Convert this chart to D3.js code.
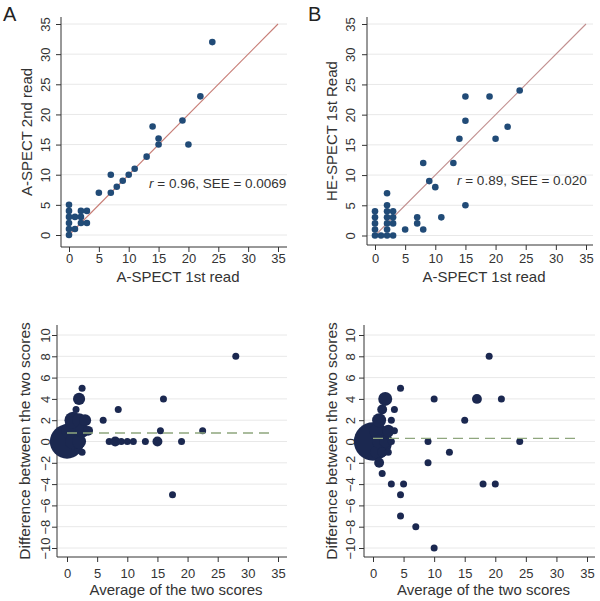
<!DOCTYPE html>
<html><head><meta charset="utf-8">
<script src="https://cdn.jsdelivr.net/npm/d3@7"></script>
<style>body{margin:0;background:#fff}svg{display:block}text{font-family:"Liberation Sans",Arial,sans-serif}</style>
</head><body>
<script>
// ---------- DATA ----------
const xTicks = [0,5,10,15,20,25,30,35];
const yTicksTop = [0,5,10,15,20,25,30,35];
const yTicksBottom = [-10,-8,-6,-4,-2,0,2,4,6,8,10];

// Panel A: A-SPECT 1st read vs 2nd read
const aRead1 = [0,0,0,0,0,0,1,1,2,2,2,3,3,5,7,7,8,9,10,11,13,14,15,15,19,20,22,24];
const aRead2 = [0,1,2,3,4,5,1,3,2,3,4,2,4,7,7,10,8,9,10,11,13,18,15,16,19,15,23,32];
const aLabel = "r = 0.96, SEE = 0.0069";

// Panel B: A-SPECT 1st read vs HE-SPECT 1st read
const bASpect = [0,0,0,0,0,1,2,2,2,2,2,2,2,3,3,3,3,5,7,7,8,8,9,10,11,13,14,15,15,15,19,20,22,24];
const bHESpect = [0,1,2,3,4,0,0,1,2,3,4,5,7,0,2,3,4,1,2,3,1,12,9,8,3,12,16,5,19,23,23,16,18,24];
const bLabel = "r = 0.89, SEE = 0.020";

// Panel C: Bland-Altman, A-SPECT reads (bubble = number of subjects)
const cAvg   = [0,0.5,1,1.5,2,2.5,1,2,2,2.5,3,2.5,3.5,6,8.5,7,8,9,10,11,13,15,15.5,16,17.5,19,22.5,28];
const cDiff  = [0,1,2,3,4,5,0,0,2,1,2,-1,1,2,3,0,0,0,0,0,0,0,1,4,-5,0,1,8];
const cCount = [24,6,6,1,3,1,5,4,4,4,3,1,2,1,1,1,2,1,1,1,1,2,1,1,1,1,1,1];
const cMeanDiff = 0.8;

// Panel D: Bland-Altman, A-SPECT vs HE-SPECT
const dAvg   = [0,0.5,1,1.5,2,0.5,1,1.5,2,2.5,1,1.5,2.5,3,3,3.5,3.5,4.5,3,4.5,5,4.5,7,9,9,10,10,12.5,15,17,18,19,20,21,24];
const dDiff  = [0,1,2,3,4,-1,0,-1,0,1,-2,-3,-1,0,2,1,3,5,-4,-5,-4,-7,-8,0,-2,4,-10,-1,2,4,-4,8,-4,4,0];
const dCount = [30,4,4,2,4,3,4,2,3,3,2,1,1,1,1,1,1,1,1,1,1,1,1,1,1,1,1,1,1,2,1,1,1,1,1];
const dMeanDiff = 0.3;

// ---------- DRAW ----------
const W = 600, H = 601;
const svg = d3.select("body").append("svg").attr("width", W).attr("height", H);

const topColor = "#214b77";
const botColor = "#1b2850";
const axisColor = "#333";
const textColor = "#333";
const gridColor = "#e8e8e8";

function panel(o) {
  const g = svg.append("g");
  const x = d3.scaleLinear().domain([0,35]).range(o.xr);
  const y = d3.scaleLinear().domain(o.yd).range(o.yr);
  g.selectAll("line.grid").data(o.yTicks).join("line").attr("class","grid")
    .attr("x1", o.left).attr("x2", o.right)
    .attr("y1", d => y(d)).attr("y2", d => y(d))
    .attr("stroke", gridColor).attr("stroke-width", 1);
  const yAx = g.append("g").attr("transform", `translate(${o.left},0)`)
    .call(d3.axisLeft(y).tickValues(o.yTicks).tickSize(5).tickSizeOuter(0).tickFormat(d3.format("d")));
  yAx.select(".domain").remove();
  yAx.append("line").attr("x1",0).attr("x2",0).attr("y1",o.top).attr("y2",o.bottom).attr("stroke",axisColor);
  yAx.selectAll(".tick line").attr("stroke", axisColor);
  yAx.selectAll(".tick text").attr("fill", textColor).style("font-size","13px")
    .attr("text-anchor","middle")
    .attr("transform", `translate(${o.tickLabX - o.left},0) rotate(-90)`)
    .attr("x",0).attr("dy","0.35em").attr("y",0);
  const xAx = g.append("g").attr("transform", `translate(0,${o.bottom})`)
    .call(d3.axisBottom(x).tickValues(xTicks).tickSize(5).tickSizeOuter(0));
  xAx.select(".domain").remove();
  xAx.append("line").attr("x1",o.left).attr("x2",o.right).attr("y1",0).attr("y2",0).attr("stroke",axisColor);
  xAx.selectAll(".tick line").attr("stroke", axisColor);
  xAx.selectAll(".tick text").attr("fill", textColor).style("font-size","13px")
    .attr("y", o.xTickLabY - o.bottom).attr("dy","0.35em");
  g.append("text").attr("x", (o.left+o.right)/2 + 4).attr("y", o.xTitleY).attr("dy","0.35em")
    .attr("text-anchor","middle").attr("fill",textColor).style("font-size","15px").text(o.xTitle);
  g.append("text").attr("transform", `translate(${o.yTitleX},${(o.top+o.bottom)/2}) rotate(-90)`)
    .attr("dy","0.35em").attr("text-anchor","middle").attr("fill",textColor).style("font-size",o.yTitleSize||"15px").text(o.yTitle);
  if (o.letter) g.append("text").attr("x", o.letter[0]).attr("y", o.letter[1])
    .attr("fill","#222").style("font-size","20px").text(o.letter[2]);
  return {g, x, y};
}

function fitLine(p, color) {
  const path = d3.path();
  path.moveTo(p.x(0), p.y(0));
  path.lineTo(p.x(35), p.y(35));
  p.g.append("path").attr("class","fit").attr("d", path.toString())
    .attr("fill","none").attr("stroke",color).attr("stroke-width",1.1);
}
function stat(p, label, xv, yv) {
  const t = p.g.append("text").attr("x",p.x(xv)).attr("y",p.y(yv)).attr("dy","0.35em")
    .attr("fill",textColor).style("font-size","13.5px");
  t.append("tspan").style("font-style","italic").text(label.slice(0,1));
  t.append("tspan").text(label.slice(1));
}

// Panel A
{
  const p = panel({xr:[69,278], yd:[0,35], yr:[235,24], yTicks:yTicksTop, left:61, right:287, top:17, bottom:247,
    tickLabX:45, xTickLabY:258, xTitleY:277, yTitleX:27, xTitle:"A-SPECT 1st read", yTitle:"A-SPECT 2nd read", letter:[3,21,"A"]});
  fitLine(p, "#c77d76");
  p.g.selectAll("circle.pt").data(aRead1.map((v,i)=>[v,aRead2[i]])).join("circle").attr("class","pt")
    .attr("cx",d=>p.x(d[0])).attr("cy",d=>p.y(d[1])).attr("r",3.3).attr("fill",topColor);
  stat(p, aLabel, 13.4, 8.6);
}
// Panel B
{
  const p = panel({xr:[375,586], yd:[0,35], yr:[235.5,24], yTicks:yTicksTop, left:367, right:593, top:17, bottom:245,
    tickLabX:350, xTickLabY:258, xTitleY:277, yTitleX:332, xTitle:"A-SPECT 1st read", yTitle:"HE-SPECT 1st Read", letter:[308,21,"B"]});
  fitLine(p, "#c29090");
  p.g.selectAll("circle.pt").data(bASpect.map((v,i)=>[v,bHESpect[i]])).join("circle").attr("class","pt")
    .attr("cx",d=>p.x(d[0])).attr("cy",d=>p.y(d[1])).attr("r",3.3).attr("fill",topColor);
  stat(p, bLabel, 13.6, 9.1);
}
const rScale = d3.scaleSqrt().domain([0,1]).range([0,3.5]);
// Panel C
{
  const p = panel({xr:[67,278], yd:[-10,10], yr:[548,335], yTicks:yTicksBottom, left:57, right:287, top:325, bottom:557,
    tickLabX:45, xTickLabY:573, xTitleY:590, yTitleX:25, yTitleSize:"15.5px", xTitle:"Average of the two scores", yTitle:"Difference between the two scores"});
  p.g.selectAll("circle.pt").data(cAvg.map((v,i)=>[v,cDiff[i],cCount[i]])).join("circle").attr("class","pt")
    .attr("cx",d=>p.x(d[0])).attr("cy",d=>p.y(d[1])).attr("r",d=>rScale(d[2])).attr("fill",botColor);
  p.g.append("line").attr("x1",p.x(0)).attr("x2",p.x(34)).attr("y1",p.y(cMeanDiff)).attr("y2",p.y(cMeanDiff))
    .attr("stroke","#8fa67e").attr("stroke-width",1.3).attr("stroke-dasharray","10,6");
}
// Panel D
{
  const p = panel({xr:[373,587], yd:[-10,10], yr:[548,335], yTicks:yTicksBottom, left:364, right:595, top:325, bottom:557,
    tickLabX:350, xTickLabY:573, xTitleY:590, yTitleX:332, yTitleSize:"15.5px", xTitle:"Average of the two scores", yTitle:"Difference between the two scores"});
  p.g.selectAll("circle.pt").data(dAvg.map((v,i)=>[v,dDiff[i],dCount[i]])).join("circle").attr("class","pt")
    .attr("cx",d=>p.x(d[0])).attr("cy",d=>p.y(d[1])).attr("r",d=>rScale(d[2])).attr("fill",botColor);
  p.g.append("line").attr("x1",p.x(0)).attr("x2",p.x(34)).attr("y1",p.y(dMeanDiff)).attr("y2",p.y(dMeanDiff))
    .attr("stroke","#8fa67e").attr("stroke-width",1.3).attr("stroke-dasharray","10,6");
}
</script>
</body></html>
